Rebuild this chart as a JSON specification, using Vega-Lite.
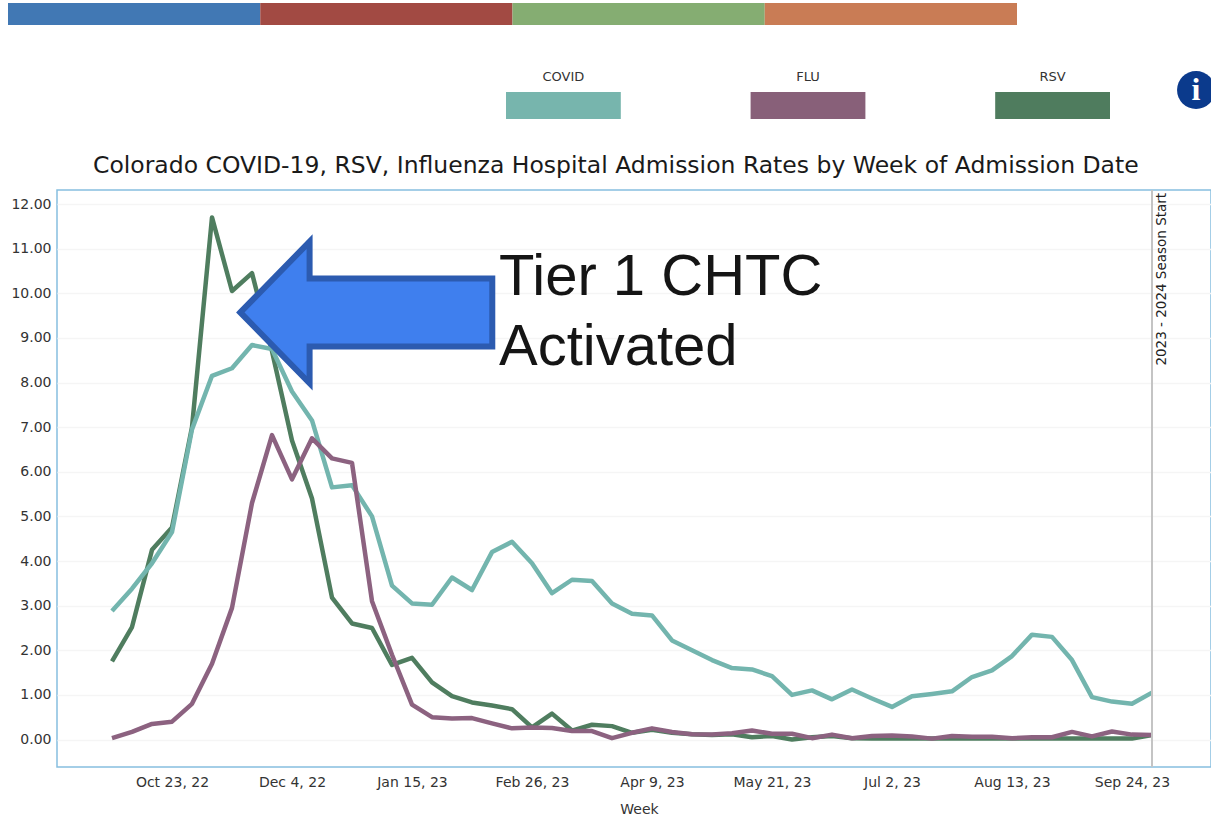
{"$schema":"https://vega.github.io/schema/vega-lite/v6.json","width":1154,"height":577,"autosize":"none","padding":{"left":57,"top":190,"right":0,"bottom":49},"background":"white","config":{"view":{"stroke":"#86bfe0","strokeWidth":1.5},"font":"DejaVu Sans"},"title":{"text":"Colorado COVID-19, RSV, Influenza Hospital Admission Rates by Week of Admission Date","anchor":"start","frame":"group","dx":36,"offset":-174,"font":"DejaVu Sans","fontSize":23.5,"fontWeight":"normal","color":"#1a1a1a"},"resolve":{"scale":{"x":"independent","y":"independent","color":"independent"},"axis":{"x":"independent","y":"independent"}},"datasets":{"rates":[{"week":"2022-10-02","series":"RSV","rate":1.75},{"week":"2022-10-09","series":"RSV","rate":2.52},{"week":"2022-10-16","series":"RSV","rate":4.25},{"week":"2022-10-23","series":"RSV","rate":4.75},{"week":"2022-10-30","series":"RSV","rate":7.0},{"week":"2022-11-06","series":"RSV","rate":11.7},{"week":"2022-11-13","series":"RSV","rate":10.05},{"week":"2022-11-20","series":"RSV","rate":10.45},{"week":"2022-11-27","series":"RSV","rate":8.7},{"week":"2022-12-04","series":"RSV","rate":6.7},{"week":"2022-12-11","series":"RSV","rate":5.4},{"week":"2022-12-18","series":"RSV","rate":3.18},{"week":"2022-12-25","series":"RSV","rate":2.6},{"week":"2023-01-01","series":"RSV","rate":2.5},{"week":"2023-01-08","series":"RSV","rate":1.67},{"week":"2023-01-15","series":"RSV","rate":1.83},{"week":"2023-01-22","series":"RSV","rate":1.28},{"week":"2023-01-29","series":"RSV","rate":0.97},{"week":"2023-02-05","series":"RSV","rate":0.83},{"week":"2023-02-12","series":"RSV","rate":0.76},{"week":"2023-02-19","series":"RSV","rate":0.68},{"week":"2023-02-26","series":"RSV","rate":0.27},{"week":"2023-03-05","series":"RSV","rate":0.58},{"week":"2023-03-12","series":"RSV","rate":0.2},{"week":"2023-03-19","series":"RSV","rate":0.33},{"week":"2023-03-26","series":"RSV","rate":0.3},{"week":"2023-04-02","series":"RSV","rate":0.15},{"week":"2023-04-09","series":"RSV","rate":0.22},{"week":"2023-04-16","series":"RSV","rate":0.15},{"week":"2023-04-23","series":"RSV","rate":0.12},{"week":"2023-04-30","series":"RSV","rate":0.1},{"week":"2023-05-07","series":"RSV","rate":0.12},{"week":"2023-05-14","series":"RSV","rate":0.05},{"week":"2023-05-21","series":"RSV","rate":0.08},{"week":"2023-05-28","series":"RSV","rate":0.0},{"week":"2023-06-04","series":"RSV","rate":0.05},{"week":"2023-06-11","series":"RSV","rate":0.08},{"week":"2023-06-18","series":"RSV","rate":0.03},{"week":"2023-06-25","series":"RSV","rate":0.02},{"week":"2023-07-02","series":"RSV","rate":0.02},{"week":"2023-07-09","series":"RSV","rate":0.02},{"week":"2023-07-16","series":"RSV","rate":0.02},{"week":"2023-07-23","series":"RSV","rate":0.02},{"week":"2023-07-30","series":"RSV","rate":0.02},{"week":"2023-08-06","series":"RSV","rate":0.02},{"week":"2023-08-13","series":"RSV","rate":0.02},{"week":"2023-08-20","series":"RSV","rate":0.02},{"week":"2023-08-27","series":"RSV","rate":0.02},{"week":"2023-09-03","series":"RSV","rate":0.02},{"week":"2023-09-10","series":"RSV","rate":0.02},{"week":"2023-09-17","series":"RSV","rate":0.02},{"week":"2023-09-24","series":"RSV","rate":0.02},{"week":"2023-10-01","series":"RSV","rate":0.1},{"week":"2022-10-02","series":"COVID","rate":2.88},{"week":"2022-10-09","series":"COVID","rate":3.38},{"week":"2022-10-16","series":"COVID","rate":3.95},{"week":"2022-10-23","series":"COVID","rate":4.65},{"week":"2022-10-30","series":"COVID","rate":6.95},{"week":"2022-11-06","series":"COVID","rate":8.15},{"week":"2022-11-13","series":"COVID","rate":8.32},{"week":"2022-11-20","series":"COVID","rate":8.84},{"week":"2022-11-27","series":"COVID","rate":8.75},{"week":"2022-12-04","series":"COVID","rate":7.8},{"week":"2022-12-11","series":"COVID","rate":7.15},{"week":"2022-12-18","series":"COVID","rate":5.65},{"week":"2022-12-25","series":"COVID","rate":5.7},{"week":"2023-01-01","series":"COVID","rate":5.0},{"week":"2023-01-08","series":"COVID","rate":3.45},{"week":"2023-01-15","series":"COVID","rate":3.05},{"week":"2023-01-22","series":"COVID","rate":3.02},{"week":"2023-01-29","series":"COVID","rate":3.63},{"week":"2023-02-05","series":"COVID","rate":3.35},{"week":"2023-02-12","series":"COVID","rate":4.2},{"week":"2023-02-19","series":"COVID","rate":4.43},{"week":"2023-02-26","series":"COVID","rate":3.95},{"week":"2023-03-05","series":"COVID","rate":3.28},{"week":"2023-03-12","series":"COVID","rate":3.58},{"week":"2023-03-19","series":"COVID","rate":3.55},{"week":"2023-03-26","series":"COVID","rate":3.05},{"week":"2023-04-02","series":"COVID","rate":2.82},{"week":"2023-04-09","series":"COVID","rate":2.78},{"week":"2023-04-16","series":"COVID","rate":2.22},{"week":"2023-04-23","series":"COVID","rate":2.0},{"week":"2023-04-30","series":"COVID","rate":1.78},{"week":"2023-05-07","series":"COVID","rate":1.6},{"week":"2023-05-14","series":"COVID","rate":1.57},{"week":"2023-05-21","series":"COVID","rate":1.42},{"week":"2023-05-28","series":"COVID","rate":1.0},{"week":"2023-06-04","series":"COVID","rate":1.1},{"week":"2023-06-11","series":"COVID","rate":0.9},{"week":"2023-06-18","series":"COVID","rate":1.12},{"week":"2023-06-25","series":"COVID","rate":0.92},{"week":"2023-07-02","series":"COVID","rate":0.73},{"week":"2023-07-09","series":"COVID","rate":0.97},{"week":"2023-07-16","series":"COVID","rate":1.02},{"week":"2023-07-23","series":"COVID","rate":1.08},{"week":"2023-07-30","series":"COVID","rate":1.4},{"week":"2023-08-06","series":"COVID","rate":1.55},{"week":"2023-08-13","series":"COVID","rate":1.87},{"week":"2023-08-20","series":"COVID","rate":2.35},{"week":"2023-08-27","series":"COVID","rate":2.3},{"week":"2023-09-03","series":"COVID","rate":1.78},{"week":"2023-09-10","series":"COVID","rate":0.95},{"week":"2023-09-17","series":"COVID","rate":0.85},{"week":"2023-09-24","series":"COVID","rate":0.8},{"week":"2023-10-01","series":"COVID","rate":1.05},{"week":"2022-10-02","series":"FLU","rate":0.03},{"week":"2022-10-09","series":"FLU","rate":0.17},{"week":"2022-10-16","series":"FLU","rate":0.35},{"week":"2022-10-23","series":"FLU","rate":0.4},{"week":"2022-10-30","series":"FLU","rate":0.8},{"week":"2022-11-06","series":"FLU","rate":1.7},{"week":"2022-11-13","series":"FLU","rate":2.95},{"week":"2022-11-20","series":"FLU","rate":5.3},{"week":"2022-11-27","series":"FLU","rate":6.82},{"week":"2022-12-04","series":"FLU","rate":5.83},{"week":"2022-12-11","series":"FLU","rate":6.75},{"week":"2022-12-18","series":"FLU","rate":6.3},{"week":"2022-12-25","series":"FLU","rate":6.2},{"week":"2023-01-01","series":"FLU","rate":3.1},{"week":"2023-01-08","series":"FLU","rate":1.9},{"week":"2023-01-15","series":"FLU","rate":0.78},{"week":"2023-01-22","series":"FLU","rate":0.5},{"week":"2023-01-29","series":"FLU","rate":0.47},{"week":"2023-02-05","series":"FLU","rate":0.48},{"week":"2023-02-12","series":"FLU","rate":0.36},{"week":"2023-02-19","series":"FLU","rate":0.25},{"week":"2023-02-26","series":"FLU","rate":0.27},{"week":"2023-03-05","series":"FLU","rate":0.26},{"week":"2023-03-12","series":"FLU","rate":0.19},{"week":"2023-03-19","series":"FLU","rate":0.19},{"week":"2023-03-26","series":"FLU","rate":0.03},{"week":"2023-04-02","series":"FLU","rate":0.15},{"week":"2023-04-09","series":"FLU","rate":0.25},{"week":"2023-04-16","series":"FLU","rate":0.17},{"week":"2023-04-23","series":"FLU","rate":0.12},{"week":"2023-04-30","series":"FLU","rate":0.11},{"week":"2023-05-07","series":"FLU","rate":0.14},{"week":"2023-05-14","series":"FLU","rate":0.2},{"week":"2023-05-21","series":"FLU","rate":0.13},{"week":"2023-05-28","series":"FLU","rate":0.13},{"week":"2023-06-04","series":"FLU","rate":0.03},{"week":"2023-06-11","series":"FLU","rate":0.11},{"week":"2023-06-18","series":"FLU","rate":0.03},{"week":"2023-06-25","series":"FLU","rate":0.08},{"week":"2023-07-02","series":"FLU","rate":0.09},{"week":"2023-07-09","series":"FLU","rate":0.07},{"week":"2023-07-16","series":"FLU","rate":0.02},{"week":"2023-07-23","series":"FLU","rate":0.08},{"week":"2023-07-30","series":"FLU","rate":0.06},{"week":"2023-08-06","series":"FLU","rate":0.06},{"week":"2023-08-13","series":"FLU","rate":0.03},{"week":"2023-08-20","series":"FLU","rate":0.05},{"week":"2023-08-27","series":"FLU","rate":0.05},{"week":"2023-09-03","series":"FLU","rate":0.17},{"week":"2023-09-10","series":"FLU","rate":0.07},{"week":"2023-09-17","series":"FLU","rate":0.18},{"week":"2023-09-24","series":"FLU","rate":0.11},{"week":"2023-10-01","series":"FLU","rate":0.1}]},"layer":[{"layer":[{"data":{"name":"rates"},"mark":{"type":"line","strokeWidth":4.5,"strokeJoin":"round","clip":false},"encoding":{"x":{"field":"week","type":"temporal","scale":{"type":"utc","domain":["2022-09-12T18:00:00Z","2023-10-21T15:36:00Z"]},"axis":{"title":"Week","values":["2022-10-23","2022-12-04","2023-01-15","2023-02-26","2023-04-09","2023-05-21","2023-07-02","2023-08-13","2023-09-24"],"format":"%b %-d, %y","grid":false,"ticks":false,"domain":false,"labelFont":"DejaVu Sans","labelFontSize":14,"labelColor":"#333333","labelPadding":8,"titleFont":"DejaVu Sans","titleFontSize":14,"titleFontWeight":"normal","titleColor":"#333333","titlePadding":13,"titleX":582,"labelFlush":false,"labelOverlap":false}},"y":{"field":"rate","type":"quantitative","scale":{"domain":[-0.616,12.314],"nice":false,"zero":false},"axis":{"title":null,"values":[0,1,2,3,4,5,6,7,8,9,10,11,12],"format":".2f","ticks":false,"domain":false,"grid":true,"gridColor":"#f5f5f5","gridWidth":1.5,"labelFont":"DejaVu Sans","labelFontSize":14,"labelColor":"#333333","labelPadding":6}},"color":{"field":"series","type":"nominal","legend":null,"scale":{"domain":["COVID","FLU","RSV"],"range":["#73b5ae","#8c6280","#4f7d5f"]}}}},{"data":{"values":[{"week":"2023-10-01","label":"2023 - 2024 Season Start","rate":12.25}]},"layer":[{"mark":{"type":"rule","color":"#c4c4c4","strokeWidth":2},"encoding":{"x":{"field":"week","type":"temporal"}}},{"mark":{"type":"text","angle":270,"align":"right","baseline":"middle","dy":10,"font":"DejaVu Sans","fontSize":13.5,"color":"#222222"},"encoding":{"x":{"field":"week","type":"temporal"},"y":{"field":"rate","type":"quantitative"},"text":{"field":"label"}}}]},{"data":{"values":[{"week":"2022-12-30","rate":9.57}]},"mark":{"type":"point","filled":true,"size":63500,"shape":"M-1,0 L-0.45,-0.562 L-0.45,-0.27 L1,-0.27 L1,0.27 L-0.45,0.27 L-0.45,0.562 Z","fill":"#3f7fee","stroke":"#2c5bb0","strokeWidth":6,"opacity":1,"clip":false},"encoding":{"x":{"field":"week","type":"temporal"},"y":{"field":"rate","type":"quantitative"}}},{"data":{"values":[{"week":"2023-02-14T11:00:00Z","rate":9.96,"label":"Tier 1 CHTC"},{"week":"2023-02-14T11:00:00Z","rate":8.39,"label":"Activated"}]},"mark":{"type":"text","align":"left","baseline":"alphabetic","font":"Liberation Sans","fontSize":58,"color":"#151515"},"encoding":{"x":{"field":"week","type":"temporal"},"y":{"field":"rate","type":"quantitative"},"text":{"field":"label"}}},{"data":{"values":[{"week":"2023-10-16T10:00:00Z","rate":14.555}]},"mark":{"type":"point","filled":true,"shape":"circle","size":1444,"fill":"#0b3a8c","opacity":1,"clip":false},"encoding":{"x":{"field":"week","type":"temporal"},"y":{"field":"rate","type":"quantitative"}}},{"data":{"values":[{"week":"2023-10-16T10:00:00Z","rate":14.555,"label":"i"}]},"mark":{"type":"text","align":"center","baseline":"middle","font":"Liberation Serif","fontWeight":"bold","fontSize":32,"color":"white","clip":false},"encoding":{"x":{"field":"week","type":"temporal"},"y":{"field":"rate","type":"quantitative"},"text":{"field":"label"}}}]},{"data":{"values":[{"start":0,"end":1,"tab":"Tab 1"},{"start":1,"end":2,"tab":"Tab 2"},{"start":2,"end":3,"tab":"Tab 3"},{"start":3,"end":4,"tab":"Tab 4"}]},"mark":{"type":"rect","clip":false},"encoding":{"x":{"field":"start","type":"quantitative","axis":null,"scale":{"domain":[0,4],"range":[-49,960],"nice":false,"zero":false}},"x2":{"field":"end"},"y":{"datum":0,"type":"quantitative","axis":null,"scale":{"domain":[0,1],"range":[-165,-187],"nice":false}},"y2":{"datum":1},"color":{"field":"tab","type":"nominal","legend":null,"scale":{"domain":["Tab 1","Tab 2","Tab 3","Tab 4"],"range":["#4178b4","#a24a43","#85ad72","#c97c55"]}}}},{"data":{"values":[{"series":"COVID"},{"series":"FLU"},{"series":"RSV"}]},"mark":{"type":"rect","clip":false},"encoding":{"x":{"field":"series","type":"nominal","axis":null,"sort":null,"scale":{"type":"band","domain":["COVID","FLU","RSV"],"range":[449,1053],"paddingInner":0.5306,"paddingOuter":0}},"y":{"datum":0,"type":"quantitative","axis":null,"scale":{"domain":[0,1],"range":[-71,-98],"nice":false}},"y2":{"datum":1},"color":{"field":"series","type":"nominal","legend":null,"scale":{"domain":["COVID","FLU","RSV"],"range":["#77b5ad","#886079","#4f7c5e"]}}}},{"data":{"values":[{"series":"COVID"},{"series":"FLU"},{"series":"RSV"}]},"mark":{"type":"text","baseline":"middle","font":"DejaVu Sans","fontSize":13,"color":"#333333","clip":false},"encoding":{"x":{"field":"series","type":"nominal","axis":null,"sort":null,"scale":{"type":"band","domain":["COVID","FLU","RSV"],"range":[449,1053],"paddingInner":0.5306,"paddingOuter":0},"bandPosition":0.5},"y":{"datum":0,"type":"quantitative","axis":null,"scale":{"domain":[0,1],"range":[-113,-114],"nice":false}},"text":{"field":"series"}}}]}
